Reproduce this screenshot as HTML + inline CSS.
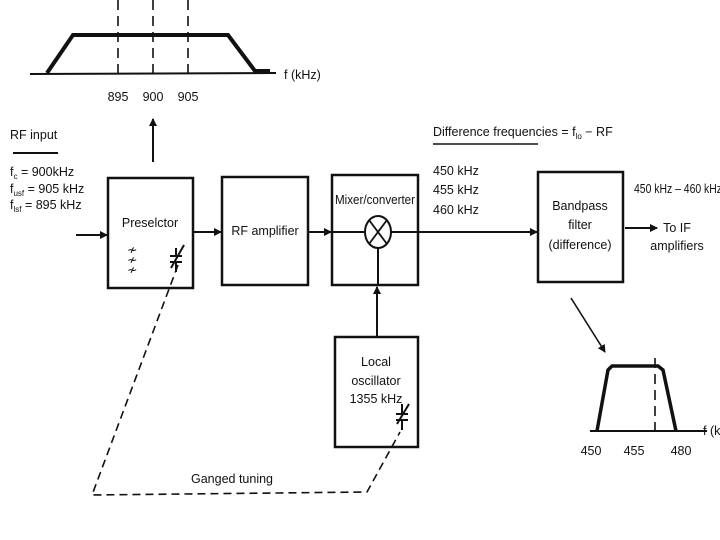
<!DOCTYPE html>
<html><head><meta charset="utf-8"><style>
html,body{margin:0;padding:0;background:#fff;}
svg{display:block;}
text{font-family:"Liberation Sans",sans-serif;font-size:12.5px;fill:#111;}
</style></head><body>
<svg width="720" height="540" viewBox="0 0 720 540">
<defs><marker id="a" markerWidth="8" markerHeight="8" refX="7" refY="4" orient="auto" markerUnits="userSpaceOnUse"><path d="M0,0 L8,4 L0,8 Z" fill="#111"/></marker></defs>
<g stroke="#111" fill="none">
<line x1="30" y1="74" x2="276" y2="73" stroke-width="2"/>
<polyline points="47,73 73,35 228,35 255,71 270,71" stroke-width="4"/>
<g stroke-dasharray="10,6" stroke-width="1.6">
<line x1="118" y1="0" x2="118" y2="76"/><line x1="153" y1="0" x2="153" y2="76"/><line x1="188" y1="0" x2="188" y2="76"/>
</g>
<line x1="153" y1="162" x2="153" y2="119" stroke-width="2" marker-end="url(#a)"/>
<line x1="13" y1="153" x2="58" y2="153" stroke-width="2"/>
<rect x="108" y="178" width="85" height="110" stroke-width="2.5"/>
<rect x="222" y="177" width="86" height="108" stroke-width="2.5"/>
<rect x="332" y="175" width="86" height="110" stroke-width="2.5"/>
<rect x="538" y="172" width="85" height="110" stroke-width="2.5"/>
<rect x="335" y="337" width="83" height="110" stroke-width="2.5"/>
<line x1="76" y1="235" x2="107" y2="235" stroke-width="2" marker-end="url(#a)"/>
<line x1="193" y1="232" x2="221" y2="232" stroke-width="2" marker-end="url(#a)"/>
<line x1="308" y1="232" x2="331" y2="232" stroke-width="2" marker-end="url(#a)"/>
<line x1="332" y1="232" x2="365" y2="232" stroke-width="2"/>
<line x1="391" y1="232" x2="537" y2="232" stroke-width="2" marker-end="url(#a)"/>
<line x1="625" y1="228" x2="657" y2="228" stroke-width="2" marker-end="url(#a)"/>
<line x1="377" y1="337" x2="377" y2="287" stroke-width="2" marker-end="url(#a)"/>
<line x1="378" y1="248" x2="378" y2="285" stroke-width="2"/>
<ellipse cx="378" cy="232" rx="13" ry="16" stroke-width="2"/>
<line x1="369" y1="220" x2="387" y2="244" stroke-width="1.8"/><line x1="387" y1="220" x2="369" y2="244" stroke-width="1.8"/>
<line x1="433" y1="144" x2="538" y2="144" stroke-width="1.5"/>
<g stroke-width="2">
<line x1="176" y1="248" x2="176" y2="256"/><line x1="170" y1="256" x2="182" y2="256"/><line x1="170" y1="262" x2="182" y2="262"/><line x1="176" y1="262" x2="176" y2="272"/><line x1="171" y1="268" x2="184" y2="245"/>
<line x1="402" y1="404" x2="402" y2="414"/><line x1="396" y1="414" x2="408" y2="414"/><line x1="396" y1="420" x2="408" y2="420"/><line x1="402" y1="420" x2="402" y2="430"/><line x1="397" y1="424" x2="409" y2="404"/>
</g>
<polyline points="178,265 92,495 367,492 400,432" stroke-width="1.6" stroke-dasharray="8,5"/>
<line x1="590" y1="431" x2="707" y2="431" stroke-width="2"/>
<polyline points="597,431 608,370 612,366 658,366 663,370 676,431" stroke-width="3.5"/>
<line x1="655" y1="358" x2="655" y2="431" stroke-width="1.6" stroke-dasharray="10,6"/>
<line x1="571" y1="298" x2="605" y2="352" stroke-width="1.6" marker-end="url(#a)"/>
</g>
<text x="118" y="101" text-anchor="middle">895</text>
<text x="153" y="101" text-anchor="middle">900</text>
<text x="188" y="101" text-anchor="middle">905</text>
<text x="284" y="79" font-size="11.5">f (kHz)</text>
<text x="10" y="139">RF input</text>
<text x="10" y="176">f<tspan font-size="8" dy="3">c</tspan><tspan dy="-3"> = 900kHz</tspan></text>
<text x="10" y="193">f<tspan font-size="8" dy="3">usf</tspan><tspan dy="-3"> = 905 kHz</tspan></text>
<text x="10" y="209">f<tspan font-size="8" dy="3">lsf</tspan><tspan dy="-3"> = 895 kHz</tspan></text>
<text x="150" y="227" text-anchor="middle">Preselctor</text>
<text x="127" y="254" font-size="9">≁</text><text x="127" y="264" font-size="9">≁</text><text x="127" y="274" font-size="9">≁</text>
<text x="265" y="235" text-anchor="middle">RF amplifier</text>
<text x="375" y="204" text-anchor="middle" font-size="11.5" textLength="80" lengthAdjust="spacingAndGlyphs">Mixer/converter</text>
<text x="433" y="136">Difference frequencies = f<tspan font-size="8" dy="3">lo</tspan><tspan dy="-3"> − RF</tspan></text>
<text x="433" y="175">450 kHz</text>
<text x="433" y="194">455 kHz</text>
<text x="433" y="214">460 kHz</text>
<text x="580" y="210" text-anchor="middle">Bandpass</text>
<text x="580" y="229" text-anchor="middle">filter</text>
<text x="580" y="249" text-anchor="middle">(difference)</text>
<text x="634" y="193" textLength="88" lengthAdjust="spacingAndGlyphs">450 kHz – 460 kHz</text>
<text x="677" y="232" text-anchor="middle">To IF</text>
<text x="677" y="250" text-anchor="middle">amplifiers</text>
<text x="376" y="366" text-anchor="middle">Local</text>
<text x="376" y="385" text-anchor="middle">oscillator</text>
<text x="376" y="403" text-anchor="middle">1355 kHz</text>
<text x="232" y="483" text-anchor="middle">Ganged tuning</text>
<text x="591" y="455" text-anchor="middle">450</text>
<text x="634" y="455" text-anchor="middle">455</text>
<text x="681" y="455" text-anchor="middle">480</text>
<text x="703" y="435">f (kHz)</text>
</svg>
</body></html>
